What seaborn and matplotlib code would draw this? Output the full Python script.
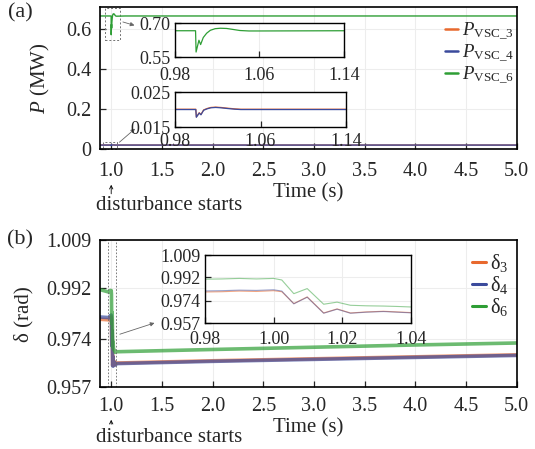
import numpy as np
import pandas as pd
import seaborn as sns
import matplotlib.pyplot as plt
from matplotlib.patches import Rectangle
from matplotlib.lines import Line2D

# Data
t_p = [0.89, 0.98, 0.9995, 1.0, 1.0027, 1.0043, 1.0068, 1.010, 1.0135, 1.018,
       1.023, 1.029, 1.036, 1.0415, 1.05, 1.06, 1.14, 5.0]
p_vsc6 = [0.666, 0.666, 0.666, 0.572, 0.624, 0.605, 0.636, 0.655, 0.668, 0.675,
          0.677, 0.676, 0.671, 0.667, 0.665, 0.665, 0.666, 0.666]
p_vsc4 = [0.0200, 0.0200, 0.0200, 0.0178, 0.0190, 0.0185, 0.0198, 0.0202, 0.0205, 0.0206,
          0.0205, 0.0203, 0.0201, 0.0200, 0.0200, 0.0200, 0.0200, 0.0200]
p_vsc3 = [0.0201, 0.0201, 0.0201, 0.0179, 0.0191, 0.0186, 0.0199, 0.0203, 0.0206, 0.0207,
          0.0206, 0.0204, 0.0202, 0.0201, 0.0201, 0.0201, 0.0201, 0.0201]

t_d = [0.89, 0.98, 0.985, 0.99, 0.995, 1.0, 1.0024, 1.0059, 1.0098, 1.0146, 1.0185,
       1.0224, 1.027, 1.032, 1.036, 1.04, 1.05, 2.0, 3.0, 4.0, 5.0]
d6 = [0.9915, 0.9906, 0.9908, 0.9912, 0.9908, 0.9912, 0.9900, 0.9795, 0.9834, 0.9714, 0.9730,
      0.9706, 0.9702, 0.9700, 0.9697, 0.9693, 0.9695, 0.9703, 0.9711, 0.9719, 0.9726]
d3 = [0.9810, 0.9808, 0.9810, 0.9815, 0.9812, 0.9818, 0.9810, 0.9719, 0.9770, 0.9647, 0.9678,
      0.9647, 0.9655, 0.9660, 0.9655, 0.9650, 0.9655, 0.9663, 0.9670, 0.9677, 0.9684]
d4 = [0.9818, 0.9816, 0.9818, 0.9822, 0.9820, 0.9825, 0.9815, 0.9717, 0.9768, 0.9645, 0.9676,
      0.9645, 0.9653, 0.9658, 0.9653, 0.9648, 0.9653, 0.9661, 0.9668, 0.9675, 0.9682]

x_ticks = [1.0, 1.5, 2.0, 2.5, 3.0, 3.5, 4.0, 4.5, 5.0]
d_ticks = [0.957, 0.974, 0.992, 1.009]

c_or, c_bl, c_gr = "#E8692E", "#3B4A9C", "#2E9E35"

sns.set_style("whitegrid", {"grid.color": ".93", "axes.edgecolor": "black"})
plt.rcParams['font.family'] = ['Liberation Serif', 'DejaVu Serif']
plt.rcParams['mathtext.fontset'] = 'custom'
plt.rcParams['mathtext.rm'] = 'Liberation Serif'
plt.rcParams['mathtext.it'] = 'Liberation Serif:italic'

df_p = pd.DataFrame({"t": t_p, "p3": p_vsc3, "p4": p_vsc4, "p6": p_vsc6})
df_d = pd.DataFrame({"t": t_d, "d3": d3, "d4": d4, "d6": d6})

fig = plt.figure(figsize=(5.35, 4.49), dpi=100)
ax1 = fig.add_axes([0.187, 0.668, 0.779, 0.316])
ax2 = fig.add_axes([0.187, 0.138, 0.779, 0.327])

fs_tick = 14.5
fs_lab = 15


def style(ax, fs, lw=1.2, xpad=9, ypad=6):
    ax.tick_params(direction='in', bottom=True, left=True, length=4, width=0.9,
                   labelsize=fs)
    ax.tick_params(axis='x', pad=xpad)
    ax.tick_params(axis='y', pad=ypad)
    for s in ax.spines.values():
        s.set_color("black")
        s.set_linewidth(lw)


# ---- (a) ----
sns.lineplot(data=df_p, x="t", y="p3", color=c_or, lw=1.0, ax=ax1)
sns.lineplot(data=df_p, x="t", y="p4", color=c_bl, lw=1.0, ax=ax1)
sns.lineplot(data=df_p, x="t", y="p6", color=c_gr, lw=1.0, ax=ax1)
ax1.set_xlim(0.89, 5.0)
ax1.set_ylim(0, 0.71)
ax1.set_xticks(x_ticks)
ax1.set_yticks([0, 0.2, 0.4, 0.6])
ax1.set_yticklabels(["0", "0.2", "0.4", "0.6"])
ax1.set_xlabel("Time (s)", fontsize=fs_lab, labelpad=2)
ax1.set_ylabel(r"$P$ (MW)", fontsize=fs_lab)
ax1.yaxis.set_label_coords(-0.115, 0.5)
style(ax1, fs_tick)
h_p = [Line2D([], [], color=c, lw=1.8) for c in (c_or, c_bl, c_gr)]
ax1.legend(h_p, [r"$P_{\rm VSC\_3}$", r"$P_{\rm VSC\_4}$", r"$P_{\rm VSC\_6}$"],
           loc="upper right", bbox_to_anchor=(1.02, 0.99), frameon=False, fontsize=13.5,
           handlelength=0.7, handletextpad=0.2, labelspacing=0.0, borderaxespad=0.2)

ax1.add_patch(Rectangle((0.94, 0.548), 0.15, 0.16, fill=False, ls=(0, (2, 2)), lw=0.7,
                        ec="0.45", clip_on=False))
ax1.add_patch(Rectangle((0.92, 0.0), 0.14, 0.036, fill=False, ls=(0, (2, 2)), lw=0.7,
                        ec="0.45", clip_on=False))
ax1.annotate("", xy=(1.256, 0.615), xytext=(1.089, 0.64),
             arrowprops=dict(arrowstyle="-|>", lw=0.6, color="0.4", mutation_scale=6))
ax1.annotate("", xy=(1.256, 0.111), xytext=(1.06, 0.025),
             arrowprops=dict(arrowstyle="-|>", lw=0.6, color="0.4", mutation_scale=6))
ax1.annotate("", xy=(1.0, -0.232), xytext=(1.0, -0.335), xycoords=("data", "axes fraction"),
             textcoords=("data", "axes fraction"),
             arrowprops=dict(arrowstyle="->", lw=0.6, color="black", mutation_scale=6))
ax1.text(0.852, -0.40, "disturbance starts", transform=ax1.get_xaxis_transform(),
         fontsize=fs_lab, va="center", ha="left")

# insets for (a)
ia1 = fig.add_axes([0.327, 0.873, 0.316, 0.0757])
sns.lineplot(data=df_p, x="t", y="p6", color=c_gr, lw=0.9, ax=ia1)
ia1.set_xlim(0.98, 1.14)
ia1.set_ylim(0.55, 0.70)
ia1.set_xticks([0.98, 1.06, 1.14])
ia1.set_yticks([0.55, 0.70])
ia1.set_yticklabels(["0.55", "0.70"])
ia1.set_xlabel("")
ia1.set_ylabel("")
style(ia1, 13, 1.0, xpad=7, ypad=3)

ia2 = fig.add_axes([0.327, 0.717, 0.320, 0.078])
sns.lineplot(data=df_p, x="t", y="p3", color=c_or, lw=0.9, ax=ia2)
sns.lineplot(data=df_p, x="t", y="p4", color=c_bl, lw=0.9, ax=ia2)
ia2.set_xlim(0.98, 1.14)
ia2.set_ylim(0.015, 0.025)
ia2.set_xticks([0.98, 1.06, 1.14])
ia2.set_yticks([0.015, 0.025])
ia2.set_yticklabels(["0.015", "0.025"])
ia2.set_xlabel("")
ia2.set_ylabel("")
style(ia2, 13, 1.0, xpad=4.5, ypad=3)

# ---- (b) ----
sns.lineplot(data=df_d, x="t", y="d3", color=c_or, lw=2.6, alpha=0.7, ax=ax2)
sns.lineplot(data=df_d, x="t", y="d4", color=c_bl, lw=2.6, alpha=0.7, ax=ax2)
sns.lineplot(data=df_d, x="t", y="d6", color=c_gr, lw=2.6, alpha=0.7, ax=ax2)
ax2.axvline(0.97, color="0.4", ls=(0, (2, 2)), lw=0.6)
ax2.axvline(1.05, color="0.4", ls=(0, (2, 2)), lw=0.6)
ax2.set_xlim(0.89, 5.0)
ax2.set_ylim(0.957, 1.009)
ax2.set_xticks(x_ticks)
ax2.set_yticks(d_ticks)
ax2.set_yticklabels([f"{v:.3f}" for v in d_ticks])
ax2.set_xlabel("Time (s)", fontsize=fs_lab, labelpad=2)
ax2.set_ylabel("δ (rad)", fontsize=fs_lab)
ax2.yaxis.set_label_coords(-0.16, 0.5)
style(ax2, fs_tick, xpad=7)
h_d = [Line2D([], [], color=c, lw=2.2) for c in (c_or, c_bl, c_gr)]
ax2.legend(h_d, ["δ$_3$", "δ$_4$", "δ$_6$"], loc="upper right", bbox_to_anchor=(1.01, 1.0),
           frameon=False, fontsize=14.5, handlelength=0.7, handletextpad=0.2,
           labelspacing=0.0, borderaxespad=0.2)
ax2.annotate("", xy=(1.453, 0.980), xytext=(1.059, 0.9754),
             arrowprops=dict(arrowstyle="-|>", lw=0.6, color="0.4", mutation_scale=6))
ax2.annotate("", xy=(1.0, -0.204), xytext=(1.0, -0.272), xycoords=("data", "axes fraction"),
             textcoords=("data", "axes fraction"),
             arrowprops=dict(arrowstyle="->", lw=0.6, color="black", mutation_scale=6))
ax2.text(0.852, -0.347, "disturbance starts", transform=ax2.get_xaxis_transform(),
         fontsize=fs_lab, va="center", ha="left")

ib = fig.add_axes([0.383, 0.2806, 0.385, 0.151])
sns.lineplot(data=df_d, x="t", y="d3", color=c_or, lw=0.8, alpha=0.6, ax=ib)
sns.lineplot(data=df_d, x="t", y="d4", color=c_bl, lw=0.8, alpha=0.5, ax=ib)
sns.lineplot(data=df_d, x="t", y="d6", color=c_gr, lw=0.8, alpha=0.5, ax=ib)
ib.set_xlim(0.98, 1.04)
ib.set_ylim(0.957, 1.009)
ib.set_xticks([0.98, 1.00, 1.02, 1.04])
ib.set_xticklabels(["0.98", "1.00", "1.02", "1.04"])
ib.set_yticks(d_ticks)
ib.set_yticklabels([f"{v:.3f}" for v in d_ticks])
ib.set_xlabel("")
ib.set_ylabel("")
style(ib, 13, 1.0, xpad=5.5, ypad=3)

fig.text(0.038, 0.971, "(a)", fontsize=16, ha="center", va="center")
fig.text(0.038, 0.466, "(b)", fontsize=16, ha="center", va="center")

fig.savefig("out.png", dpi=100)
